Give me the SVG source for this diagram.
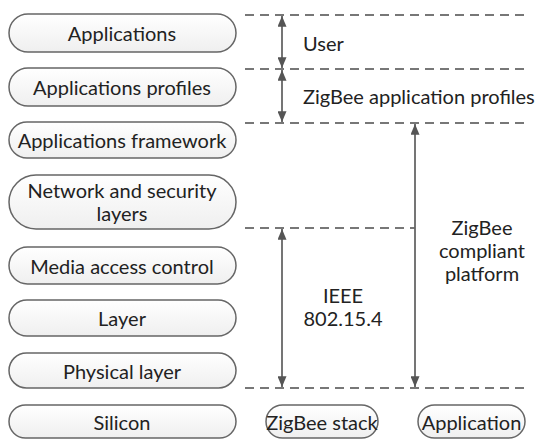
<svg xmlns="http://www.w3.org/2000/svg" width="538" height="439" viewBox="0 0 538 439">
<style>
.pill{fill:url(#g);stroke:#666;stroke-width:1.5}
.t{font-family:Lato,"Liberation Sans",sans-serif;font-size:20px;fill:#222;text-anchor:middle;dominant-baseline:central}
.l{font-family:Lato,"Liberation Sans",sans-serif;font-size:20px;fill:#222;dominant-baseline:central}
.d{stroke:#777;stroke-width:2;stroke-dasharray:9 6;fill:none}
.a{stroke:#666;stroke-width:1.8;fill:none;marker-start:url(#h);marker-end:url(#h)}
</style>
<defs>
<linearGradient id="g" x1="0" y1="0" x2="0" y2="1"><stop offset="0" stop-color="#ffffff"/><stop offset="1" stop-color="#efefef"/></linearGradient>
<marker id="h" viewBox="0 0 12 10" refX="12" refY="5" markerWidth="12" markerHeight="9" orient="auto-start-reverse" markerUnits="userSpaceOnUse"><path d="M0,0 L12,5 L0,10 z" fill="#555"/></marker>
</defs>
<g id="n1"><rect class="pill" x="9" y="14" width="227" height="38" rx="19"/><text class="t" x="122" y="33">Applications</text></g>
<g id="n2"><rect class="pill" x="9" y="68" width="227" height="38" rx="19"/><text class="t" x="122" y="87">Applications profiles</text></g>
<g id="n3"><rect class="pill" x="9" y="122" width="227" height="36" rx="18"/><text class="t" x="122" y="140">Applications framework</text></g>
<g id="n4"><rect class="pill" x="9" y="175" width="227" height="54" rx="27"/><text class="t" x="122" y="190">Network and security</text><text class="t" x="122" y="213">layers</text></g>
<g id="n5"><rect class="pill" x="9" y="247" width="227" height="37" rx="18.5"/><text class="t" x="122" y="265.5">Media access control</text></g>
<g id="n6"><rect class="pill" x="9" y="300" width="227" height="36" rx="18"/><text class="t" x="122" y="318">Layer</text></g>
<g id="n7"><rect class="pill" x="9" y="353" width="227" height="35" rx="17.5"/><text class="t" x="122" y="370.5">Physical layer</text></g>
<g id="n8"><rect class="pill" x="9" y="405" width="227" height="33" rx="16.5"/><text class="t" x="122" y="421.5">Silicon</text></g>
<g id="n9"><rect class="pill" x="266" y="405" width="112" height="33" rx="16.5"/><text class="t" x="322" y="421.5">ZigBee stack</text></g>
<g id="n10"><rect class="pill" x="418" y="405" width="107" height="33" rx="16.5"/><text class="t" x="471.5" y="421.5">Application</text></g>
<g id="connectors">
<line class="d" x1="245" y1="15" x2="530" y2="15"/>
<line class="d" x1="245" y1="69" x2="530" y2="69"/>
<line class="d" x1="245" y1="123" x2="530" y2="123"/>
<line class="d" x1="245" y1="228" x2="415" y2="228"/>
<line class="d" x1="245" y1="388" x2="530" y2="388"/>
<line class="a" x1="282" y1="16" x2="282" y2="68"/>
<line class="a" x1="282" y1="70" x2="282" y2="122"/>
<line class="a" x1="415" y1="124" x2="415" y2="387"/>
<line class="a" x1="282" y1="229" x2="282" y2="387"/>
</g>
<g id="labels">
<text class="l" x="303" y="43">User</text>
<text class="l" x="303" y="96">ZigBee application profiles</text>
<text class="t" x="482" y="227">ZigBee</text>
<text class="t" x="482" y="250">compliant</text>
<text class="t" x="482" y="273">platform</text>
<text class="t" x="343" y="295">IEEE</text>
<text class="t" x="343" y="318">802.15.4</text>
</g>
</svg>
